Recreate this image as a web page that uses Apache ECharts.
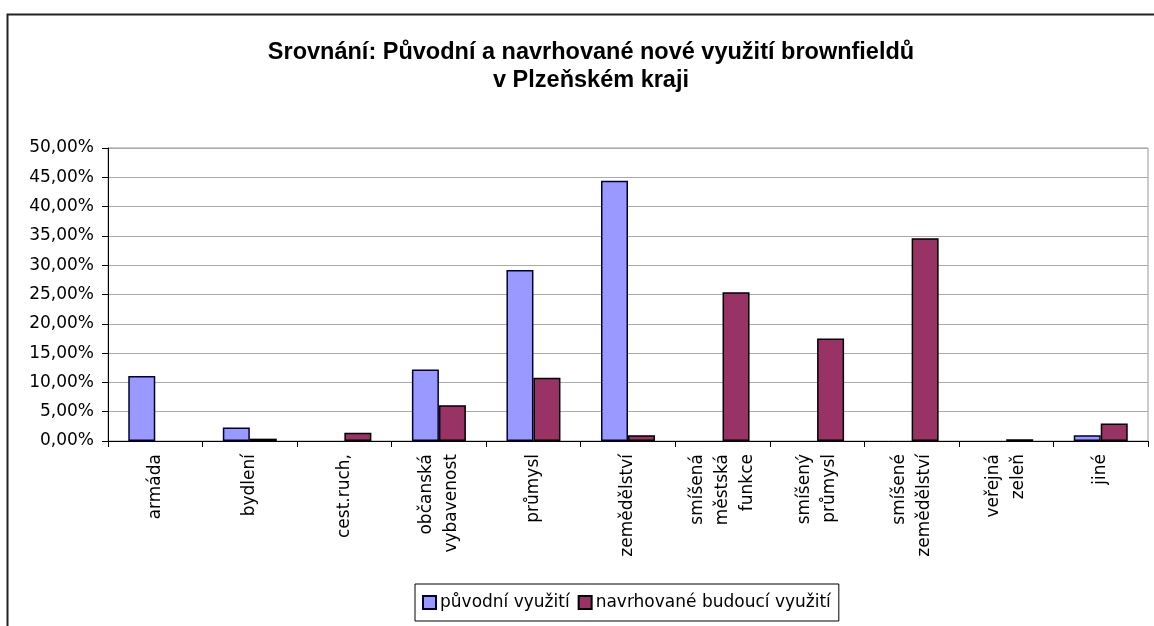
<!DOCTYPE html>
<html>
<head>
<meta charset="utf-8">
<script src="https://cdn.jsdelivr.net/npm/echarts@6/dist/echarts.min.js"></script>
<style>html,body{margin:0;padding:0;background:#fff}#c{width:1154px;height:626px}</style>
</head>
<body>
<div id="c"></div>
<script>
const categories = ['armáda','bydlení','cest.ruch,','občanská\nvybavenost','průmysl','zemědělství','smíšená\nměstská\nfunkce','smíšený\nprůmysl','smíšené\nzemědělství','veřejná\nzeleň','jiné'];
const puvodni = [11.1, 2.3, 0, 12.2, 29.2, 44.4, 0, 0, 0, 0, 1.0];
const navrhovane = [0, 0.4, 1.4, 6.1, 10.8, 1.0, 25.4, 17.5, 34.6, 0.3, 3.0];
const seriesNames = ['původní využití', 'navrhované budoucí využití'];
const titleText = 'Srovnání: Původní a navrhované nové využití brownfieldů\nv Plzeňském kraji';

const font = 'DejaVu Sans';
const hideZero = arr => arr.map(v => (v === 0 ? null : v));
const chart = echarts.init(document.getElementById('c'));
chart.setOption({
  animation: false,
  backgroundColor: '#fff',
  graphic: [{
    type: 'rect', left: 5, top: 12, shape: {width: 1300, height: 800},
    style: {fill: 'none', stroke: '#222', lineWidth: 2}, silent: true, z: -1
  }],
  title: {
    text: titleText, left: 586, textAlign: 'center', top: 34,
    textStyle: {fontFamily: 'Liberation Sans', fontWeight: 'bold', fontSize: 23.5, color: '#000', lineHeight: 28}
  },
  grid: {left: 108, right: 6, top: 148, bottom: 185, show: true, borderColor: '#999', borderWidth: 1},
  legend: {
    left: 415, top: 584, padding: [10, 8, 10, 7], itemGap: 8,
    borderColor: '#000', borderWidth: 1,
    itemWidth: 13, itemHeight: 13, icon: 'rect',
    textStyle: {fontFamily: font, fontSize: 17, color: '#000', padding: [0, 0, 0, -1]},
    data: seriesNames
  },
  xAxis: {
    type: 'category', data: categories,
    axisLine: {lineStyle: {color: '#000', width: 1}},
    axisTick: {show: true, length: 6, lineStyle: {color: '#000'}},
    axisLabel: {rotate: 90, margin: 13, interval: 0, fontFamily: font, fontSize: 17, color: '#000', lineHeight: 25}
  },
  yAxis: {
    type: 'value', min: 0, max: 50, interval: 5,
    axisLine: {show: true, lineStyle: {color: '#000', width: 1}},
    axisTick: {show: true, length: 6, lineStyle: {color: '#000'}},
    splitLine: {lineStyle: {color: '#aaa', width: 1}},
    axisLabel: {margin: 14, fontFamily: font, fontSize: 17, color: '#000',
      formatter: v => v.toFixed(2).replace('.', ',') + '%'}
  },
  series: [
    {name: seriesNames[0], type: 'bar', data: hideZero(puvodni), barWidth: 27, barGap: '0%',
      itemStyle: {color: '#9999FF', borderColor: '#000033', borderWidth: 1.5}},
    {name: seriesNames[1], type: 'bar', data: hideZero(navrhovane), barWidth: 27, barGap: '0%',
      itemStyle: {color: '#993366', borderColor: '#000', borderWidth: 1.5}}
  ]
});
</script>
</body>
</html>
